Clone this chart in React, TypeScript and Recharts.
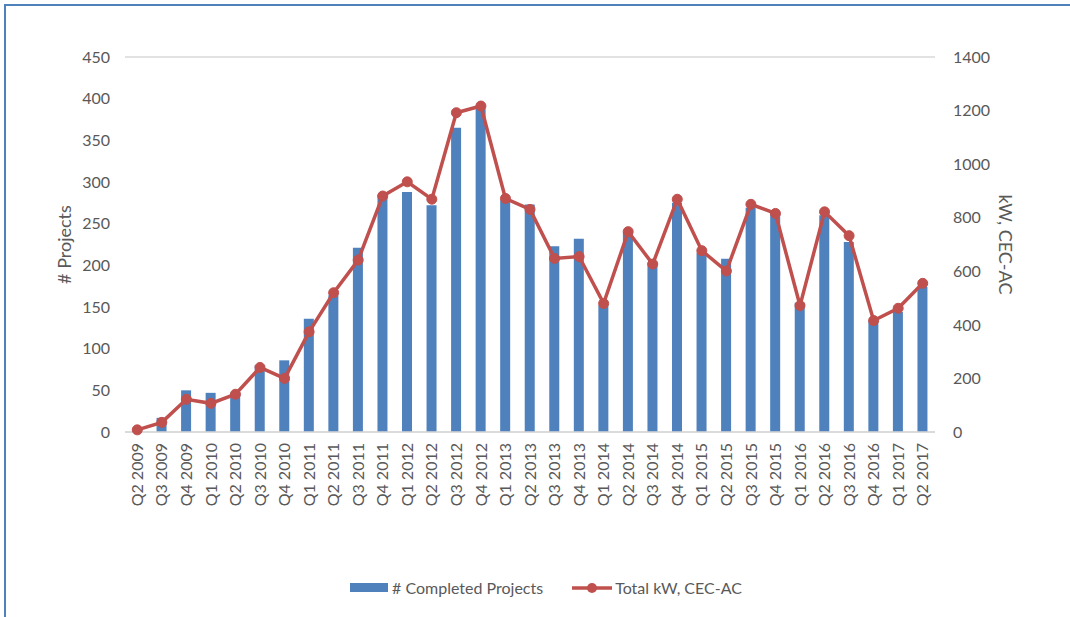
import React from "react";
import {
  ComposedChart,
  Bar,
  Line,
  XAxis,
  YAxis,
  CartesianGrid,
} from "recharts";

const quarters = [
  "Q2 2009", "Q3 2009", "Q4 2009",
  "Q1 2010", "Q2 2010", "Q3 2010", "Q4 2010",
  "Q1 2011", "Q2 2011", "Q3 2011", "Q4 2011",
  "Q1 2012", "Q2 2012", "Q3 2012", "Q4 2012",
  "Q1 2013", "Q2 2013", "Q3 2013", "Q4 2013",
  "Q1 2014", "Q2 2014", "Q3 2014", "Q4 2014",
  "Q1 2015", "Q2 2015", "Q3 2015", "Q4 2015",
  "Q1 2016", "Q2 2016", "Q3 2016", "Q4 2016",
  "Q1 2017", "Q2 2017",
];

const completedProjects = [
  2, 17, 50, 47, 47, 80, 86, 136, 164, 221, 284, 288, 272, 365, 388, 278, 273,
  223, 232, 152, 240, 203, 275, 215, 208, 269, 263, 155, 260, 228, 134, 144, 174,
];

const totalKw = [
  8, 36, 122, 107, 141, 241, 200, 374, 520, 642, 881, 934, 869, 1192, 1217, 872,
  831, 648, 655, 480, 748, 627, 869, 677, 601, 850, 816, 472, 822, 733, 416, 462,
  555,
];

const leftTicks = [0, 50, 100, 150, 200, 250, 300, 350, 400, 450];
const rightTicks = [0, 200, 400, 600, 800, 1000, 1200, 1400];

const data = quarters.map((q, i) => ({
  quarter: q,
  projects: completedProjects[i],
  kw: totalKw[i],
}));

const FONT = "Lato, 'Open Sans', sans-serif";
const TEXT = "#595959";
const BLUE = "#4f81bd";
const RED = "#c0504d";

const QuarterTick = (props: any) => {
  const { x, y, payload } = props;
  return (
    <text
      x={x}
      y={y}
      transform={`rotate(-90, ${x}, ${y})`}
      textAnchor="end"
      dy="0.35em"
      fill={TEXT}
      fontSize={16}
      fontFamily={FONT}
    >
      {payload.value}
    </text>
  );
};

const App: React.FC = () => {
  return (
    <div
      style={{
        position: "absolute",
        left: 0,
        top: 0,
        width: 1070,
        height: 617,
        background: "#fff",
        overflow: "hidden",
        fontFamily: FONT,
      }}
    >
      {/* frame */}
      <div
        style={{
          position: "absolute",
          left: 4,
          top: 4,
          width: 1070,
          height: 620,
          borderTop: `2px solid ${BLUE}`,
          borderLeft: `2px solid ${BLUE}`,
        }}
      />
      <div style={{ position: "absolute", left: 0, top: 0 }}>
        <ComposedChart
          width={1070}
          height={617}
          data={data}
          margin={{ top: 57, right: 0, bottom: 0, left: 0 }}
          barCategoryGap={0}
        >
          <CartesianGrid vertical={false} stroke="#d9d9d9" strokeWidth={1.5} />
          <XAxis
            dataKey="quarter"
            interval={0}
            height={185}
            tickLine={false}
            axisLine={{ stroke: "#d9d9d9", strokeWidth: 1.5 }}
            tick={<QuarterTick />}
            tickSize={0}
            tickMargin={11}
          />
          <YAxis
            yAxisId="left"
            width={125}
            domain={[0, 450]}
            ticks={leftTicks}
            axisLine={false}
            tickLine={false}
            tickSize={0}
            tickMargin={15}
            tick={{ fill: TEXT, fontSize: 16, fontFamily: FONT }}
            label={{
              value: "# Projects",
              angle: -90,
              position: "insideLeft",
              offset: 65,
              style: { fill: TEXT, fontSize: 18, fontFamily: FONT, textAnchor: "middle" },
            }}
          />
          <YAxis
            yAxisId="right"
            orientation="right"
            width={135}
            domain={[0, 1400]}
            ticks={rightTicks}
            axisLine={false}
            tickLine={false}
            tickSize={0}
            tickMargin={18}
            tick={{ fill: TEXT, fontSize: 16, fontFamily: FONT, textAnchor: "start" }}
            label={{
              value: "kW, CEC-AC",
              angle: 90,
              position: "insideRight",
              offset: 65,
              style: { fill: TEXT, fontSize: 18, fontFamily: FONT, textAnchor: "middle" },
            }}
          />
          <Bar
            yAxisId="left"
            dataKey="projects"
            fill={BLUE}
            barSize={10}
            isAnimationActive={false}
          />
          <Line
            yAxisId="right"
            dataKey="kw"
            type="linear"
            stroke={RED}
            strokeWidth={3.5}
            dot={{ r: 5, fill: RED, stroke: RED, strokeWidth: 1 }}
            activeDot={false}
            isAnimationActive={false}
          />
        </ComposedChart>
      </div>
      {/* legend */}
      <div
        style={{
          position: "absolute",
          top: 578,
          left: 0,
          width: 1092,
          display: "flex",
          justifyContent: "center",
          alignItems: "center",
          fontSize: 16,
          color: TEXT,
          fontFamily: FONT,
        }}
      >
        <span
          style={{ display: "inline-block", width: 38, height: 9, background: BLUE, marginRight: 4 }}
        />
        <span>{"# Completed Projects"}</span>
        <svg width={42} height={14} style={{ marginLeft: 28, marginRight: 2 }}>
          <line x1={1} y1={7} x2={41} y2={7} stroke={RED} strokeWidth={3.5} />
          <circle cx={21} cy={7} r={5} fill={RED} />
        </svg>
        <span>{"Total kW, CEC-AC"}</span>
      </div>
    </div>
  );
};

export default App;
